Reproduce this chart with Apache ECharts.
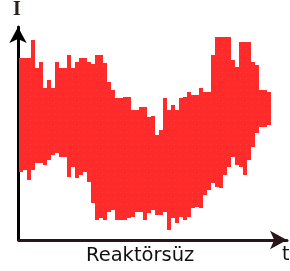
<!DOCTYPE html>
<html>
<head>
<meta charset="utf-8">
<script src="https://cdn.jsdelivr.net/npm/echarts@6/dist/echarts.min.js"></script>
<style>
  html, body { margin: 0; padding: 0; background: #fff; }
  #chart { width: 290px; height: 271px; }
</style>
</head>
<body>
<div id="chart"></div>
<script>
// time samples (t) and the envelope of the noisy current signal I
const tValues = [4, 8, 12, 16, 20, 24, 28, 32, 36, 40, 44, 48, 52, 56, 60, 64, 68, 72, 76, 80,
  84, 88, 92, 96, 100, 104, 108, 112, 116, 120, 124, 128, 132, 136, 140, 144, 148, 152, 156, 160,
  164, 168, 172, 176, 180, 184, 188, 192, 196, 200, 204, 208, 212, 216, 220, 224, 228, 232, 236, 240,
  244, 248, 252];
// empty time slots after the signal, under the arrow head
const tTail = [256, 260, 264, 268];
const iHigh = [182, 182, 182, 200, 172, 178, 152, 160, 152, 178, 172, 172, 185, 172, 178, 182, 182, 178, 176, 185,
  185, 177, 158, 150, 142, 142, 143, 143, 130, 130, 133, 133, 123, 124, 105, 110, 142, 130, 135, 130,
  142, 143, 148, 145, 145, 152, 148, 148, 185, 203, 203, 203, 203, 180, 173, 198, 198, 198, 178, 175,
  150, 150, 148];
const iLow = [68, 70, 60, 70, 77, 77, 75, 80, 85, 87, 83, 83, 63, 73, 62, 65, 68, 58, 37, 20,
  22, 20, 28, 30, 20, 20, 20, 22, 23, 28, 28, 20, 27, 30, 25, 25, 28, 10, 22, 17,
  23, 20, 23, 32, 33, 32, 45, 50, 57, 53, 52, 65, 73, 83, 75, 73, 65, 80, 93, 107,
  113, 113, 115];
const xName = "t";
const yName = "I";
const caption = "Reaktörsüz";

const chart = echarts.init(document.getElementById("chart"), null, { renderer: "canvas" });

const cats = tValues.concat(tTail).map(String);
const baseData = iLow.slice();
const spanData = iHigh.map((h, i) => h - iLow[i]);

const option = {
  animation: false,
  grid: { left: 19, right: 3, top: 27, bottom: 31 },
  xAxis: {
    type: "category",
    data: cats,
    boundaryGap: true,
    axisLine: {
      show: true,
      symbol: ["none", "arrow"],
      symbolSize: [14, 17],
      lineStyle: { color: "#2a1616", width: 3 },
    },
    axisTick: { show: false },
    axisLabel: { show: false },
    splitLine: { show: false },
  },
  yAxis: {
    type: "value",
    min: 0,
    max: 213,
    offset: 1,
    axisLine: {
      show: true,
      symbol: ["none", "arrow"],
      symbolSize: [13, 16],
      lineStyle: { color: "#000", width: 3 },
    },
    axisTick: { show: false },
    axisLabel: { show: false },
    splitLine: { show: false },
  },
  graphic: [
    {
      type: "text",
      left: 13,
      top: 0,
      style: { text: yName, font: "bold 20px 'Liberation Serif'", fill: "#2a2020" },
    },
    {
      type: "text",
      left: 86,
      top: 246,
      style: { text: caption, font: "19.5px 'DejaVu Sans'", fill: "#111" },
    },
    {
      type: "text",
      left: 282,
      top: 246,
      style: { text: xName, font: "19px 'DejaVu Sans'", fill: "#111" },
    },
  ],
  series: [
    {
      type: "bar",
      stack: "sig",
      barCategoryGap: 0,
      itemStyle: { color: "transparent" },
      data: baseData,
    },
    {
      type: "bar",
      stack: "sig",
      barCategoryGap: 0,
      itemStyle: {
        color: "#ff2a2a",
        decal: {
          symbol: "rect",
          symbolSize: 0.5,
          color: "rgba(255,170,170,0.55)",
          dashArrayX: [1, 5],
          dashArrayY: [1, 5],
        },
      },
      data: spanData,
    },
  ],
};
chart.setOption(option);
</script>
</body>
</html>
